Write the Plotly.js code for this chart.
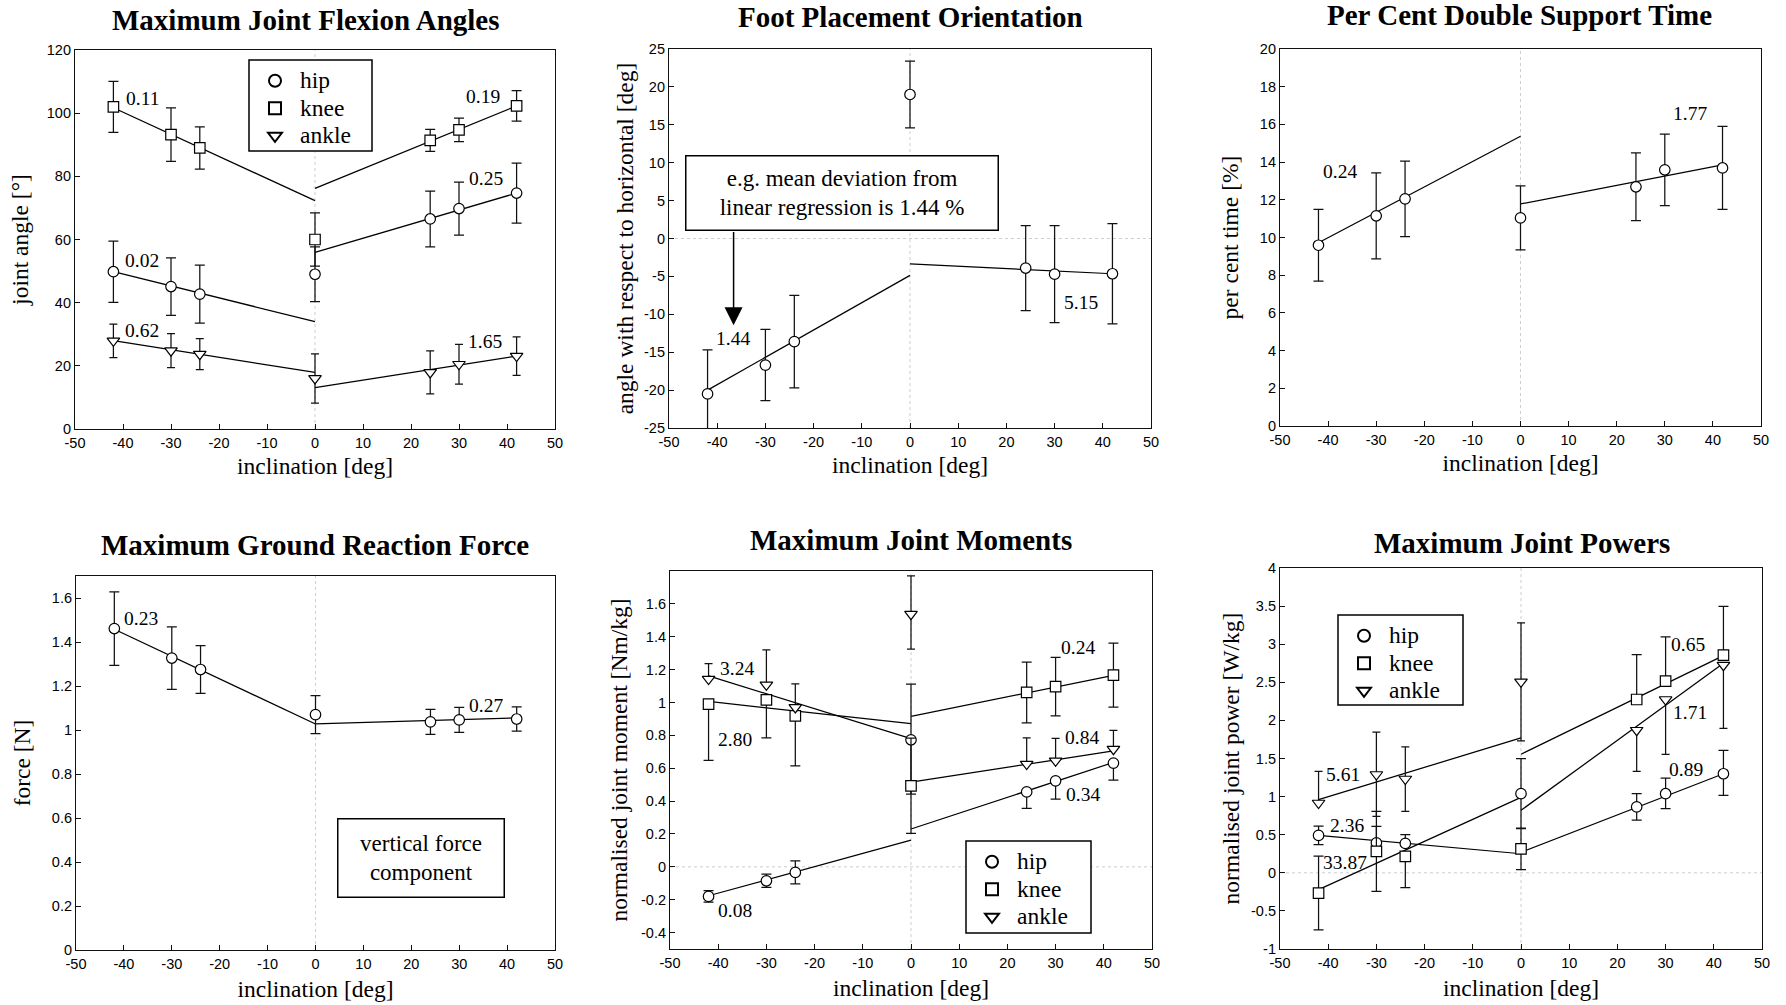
<!DOCTYPE html>
<html><head><meta charset="utf-8">
<script src="https://cdn.plot.ly/plotly-3.0.1.min.js"></script>
<style>html,body{margin:0;padding:0;background:#fff;}#chart{width:1786px;height:1005px;}</style>
</head><body><div id="chart"></div>
<script>
// ================= DATA =================
const inclination = [-42, -30, -24, 0, 24, 30, 42];
const fitLeftX = [-42, 0];
const fitRightX = [0, 42];

// Maximum joint flexion angles [deg]
const flexHip = [49.8, 45.1, 42.7, 49.0, 66.5, 69.8, 74.7];
const flexHipSD = [9.7, 9.1, 9.2, 8.7, 8.8, 8.4, 9.5];
const flexKnee = [102.0, 93.2, 89.0, 60.0, 91.4, 94.7, 102.3];
const flexKneeSD = [8.1, 8.5, 6.7, 8.4, 3.5, 3.7, 4.8];
const flexAnkle = [27.9, 24.8, 23.7, 16.0, 17.9, 20.5, 23.1];
const flexAnkleSD = [5.3, 5.4, 4.9, 7.8, 6.8, 6.3, 6.1];
const flexHipFitL = [49.8, 34.0], flexHipFitR = [55.9, 74.7];
const flexKneeFitL = [101.7, 72.3], flexKneeFitR = [76.2, 102.3];
const flexAnkleFitL = [28.0, 17.9], flexAnkleFitR = [13.1, 23.1];

// Foot placement orientation [deg]
const footAngle = [-20.5, -16.7, -13.6, 19.0, -3.9, -4.7, -4.65];
const footAngleSD = [5.8, 4.7, 6.1, 4.4, 5.6, 6.4, 6.6];
const footFitL = [-20.0, -4.87], footFitR = [-3.34, -4.65];

// Per cent double support time [%]
const dsTime = [9.59, 11.15, 12.05, 11.04, 12.69, 13.59, 13.69];
const dsTimeSD = [1.9, 2.28, 2.0, 1.7, 1.8, 1.9, 2.2];
const dsFitL = [9.72, 15.37], dsFitR = [11.78, 13.85];

// Maximum ground reaction force (vertical component) [N]
const grf = [1.461, 1.327, 1.275, 1.070, 1.037, 1.046, 1.050];
const grfSD = [0.167, 0.142, 0.109, 0.086, 0.057, 0.057, 0.055];
const grfFitL = [1.458, 1.0275], grfFitR = [1.0275, 1.055];

// Maximum joint moments [Nm/kg] (plotted error bars: upper / lower part)
const momHip = [-0.18, -0.085, -0.034, 0.773, 0.456, 0.523, 0.631];
const momHipUp = [0.035, 0.04, 0.07, 0.338, 0, 0, 0];
const momHipDown = [0.035, 0.04, 0.07, 0.331, 0.1, 0.111, 0.104];
const momKnee = [0.99, 1.016, 0.919, 0.493, 1.061, 1.097, 1.166];
const momKneeUp = [0, 0, 0, 0.29, 0.185, 0.178, 0.195];
const momKneeDown = [0.343, 0.231, 0.305, 0.29, 0.185, 0.178, 0.195];
const momAnkle = [1.142, 1.107, 0.970, 1.537, 0.625, 0.645, 0.716];
const momAnkleUp = [0.095, 0.213, 0.143, 0.233, 0.16, 0.136, 0.114];
const momAnkleDown = [0, 0, 0, 0.213, 0, 0, 0];
const momHipFitL = [-0.176, 0.162], momHipFitR = [0.23, 0.635];
const momKneeFitL = [1.006, 0.872], momKneeFitR = [0.915, 1.165];
const momAnkleFitL = [1.162, 0.78], momAnkleFitR = [0.515, 0.705];

// Maximum joint powers [W/kg]
const powHip = [0.491, 0.394, 0.386, 1.039, 0.865, 1.038, 1.30];
const powHipUp = [0.12, 0.215, 0.114, 0.46, 0.175, 0.206, 0.308];
const powHipDown = [0.12, 0, 0, 0.46, 0.175, 0.197, 0.284];
const powKnee = [-0.267, 0.280, 0.215, 0.315, 2.274, 2.515, 2.856];
const powKneeUp = [0.485, 0.525, 0, 0.27, 0.59, 0.58, 0.64];
const powKneeDown = [0.482, 0.525, 0.41, 0.272, 0, 0, 0];
const powAnkle = [0.916, 1.29, 1.231, 2.506, 1.871, 2.274, 2.725];
const powAnkleUp = [0.416, 0.557, 0.42, 0.775, 0, 0, 0];
const powAnkleDown = [0, 0.55, 0.425, 0.775, 0.54, 0.72, 0.83];
const powHipFitL = [0.49, 0.25], powHipFitR = [0.27, 1.30];
const powKneeFitL = [-0.22, 0.99], powKneeFitR = [1.556, 2.85];
const powAnkleFitL = [0.96, 1.77], powAnkleFitR = [0.82, 2.75];

// Tick labels
const xTickVals = [-50, -40, -30, -20, -10, 0, 10, 20, 30, 40, 50];
const xTickText = ['-50', '-40', '-30', '-20', '-10', '0', '10', '20', '30', '40', '50'];
const y1TickVals = [0, 20, 40, 60, 80, 100, 120];
const y1TickText = ['0', '20', '40', '60', '80', '100', '120'];
const y2TickVals = [-25, -20, -15, -10, -5, 0, 5, 10, 15, 20, 25];
const y2TickText = ['-25', '-20', '-15', '-10', '-5', '0', '5', '10', '15', '20', '25'];
const y3TickVals = [0, 2, 4, 6, 8, 10, 12, 14, 16, 18, 20];
const y3TickText = ['0', '2', '4', '6', '8', '10', '12', '14', '16', '18', '20'];
const y4TickVals = [0, 0.2, 0.4, 0.6, 0.8, 1, 1.2, 1.4, 1.6];
const y4TickText = ['0', '0.2', '0.4', '0.6', '0.8', '1', '1.2', '1.4', '1.6'];
const y5TickVals = [-0.4, -0.2, 0, 0.2, 0.4, 0.6, 0.8, 1, 1.2, 1.4, 1.6];
const y5TickText = ['-0.4', '-0.2', '0', '0.2', '0.4', '0.6', '0.8', '1', '1.2', '1.4', '1.6'];
const y6TickVals = [-1, -0.5, 0, 0.5, 1, 1.5, 2, 2.5, 3, 3.5, 4];
const y6TickText = ['-1', '-0.5', '0', '0.5', '1', '1.5', '2', '2.5', '3', '3.5', '4'];

const jointNames = ['hip', 'knee', 'ankle'];

// ================= STYLE / LAYOUT =================
const W = 1786, H = 1005;
const SERIF = '"Liberation Serif", "Times New Roman", Times, serif';
const SANS = '"Liberation Sans", Arial, Helvetica, sans-serif';
const boxes = [
  {x0: 75, x1: 555, y0: 50, y1: 429},
  {x0: 669, x1: 1151, y0: 49, y1: 428},
  {x0: 1280, x1: 1761, y0: 49, y1: 426},
  {x0: 76, x1: 555, y0: 576, y1: 950},
  {x0: 670, x1: 1152, y0: 571, y1: 949},
  {x0: 1280, x1: 1762, y0: 568, y1: 949}
];
const yRanges = [[0, 120], [-25, 25], [0, 20], [0, 1.7], [-0.5, 1.8], [-1, 4]];
const yTicks = [[y1TickVals, y1TickText], [y2TickVals, y2TickText], [y3TickVals, y3TickText],
                [y4TickVals, y4TickText], [y5TickVals, y5TickText], [y6TickVals, y6TickText]];
const yTitles = ['joint angle [°]', 'angle with respect to horizontal [deg]', 'per cent time [%]',
                 'force [N]', 'normalised joint moment [Nm/kg]', 'normalised joint power [W/kg]'];
const yStandoff = [11, 3, 13.7, 13.7, 6.5, 4.6];
const xStandoff = [8, 8, 8, 9.5, 9.5, 9.5];
const hasYZeroLine = [false, true, false, false, true, true];

function axisBase() {
  return {
    showline: true, linecolor: '#111', linewidth: 1.2, mirror: true,
    ticks: 'inside', ticklen: 5, tickwidth: 1, tickcolor: '#111',
    showgrid: false, zeroline: false,
    tickfont: {family: SANS, size: 14.5, color: '#000'},
    fixedrange: true
  };
}

const layout = {
  width: W, height: H,
  margin: {l: 0, r: 0, t: 0, b: 0},
  paper_bgcolor: '#fff', plot_bgcolor: '#fff',
  showlegend: true,
  annotations: [], shapes: []
};

boxes.forEach((b, i) => {
  const n = i === 0 ? '' : String(i + 1);
  const xa = axisBase();
  Object.assign(xa, {
    domain: [b.x0 / W, b.x1 / W], range: [-50, 50], anchor: 'y' + n,
    tickmode: 'array', tickvals: xTickVals, ticktext: xTickText,
    title: {text: 'inclination [deg]', font: {family: SERIF, size: 23.5, color: '#000'}, standoff: xStandoff[i]}
  });
  const ya = axisBase();
  Object.assign(ya, {
    domain: [1 - b.y1 / H, 1 - b.y0 / H], range: yRanges[i], anchor: 'x' + n,
    tickmode: 'array', tickvals: yTicks[i][0], ticktext: yTicks[i][1],
    title: {text: yTitles[i], font: {family: SERIF, size: 23.5, color: '#000'}, standoff: yStandoff[i]}
  });
  layout['xaxis' + n] = xa;
  layout['yaxis' + n] = ya;
  // faint dotted zero reference lines
  layout.shapes.push({
    type: 'line', layer: 'below', xref: 'x' + n, yref: 'y' + n + ' domain',
    x0: 0, x1: 0, y0: 0, y1: 1, line: {color: '#cdcdcd', width: 1, dash: 'dot'}
  });
  if (hasYZeroLine[i]) {
    layout.shapes.push({
      type: 'line', layer: 'below', xref: 'x' + n + ' domain', yref: 'y' + n,
      x0: 0, x1: 1, y0: 0, y1: 0, line: {color: '#cdcdcd', width: 1, dash: 'dot'}
    });
  }
});

// panel titles
const panelTitles = [
  ['Maximum Joint Flexion Angles', 305, 20],
  ['Foot Placement Orientation', 910, 17],
  ['Per Cent Double Support Time', 1519, 15],
  ['Maximum Ground Reaction Force', 315, 545],
  ['Maximum Joint Moments', 911, 540],
  ['Maximum Joint Powers', 1522, 543]
];
panelTitles.forEach(t => layout.annotations.push({
  text: t[0], xref: 'paper', yref: 'paper', x: t[1] / W, y: 1 - t[2] / H,
  xanchor: 'center', yanchor: 'middle', showarrow: false,
  font: {family: SERIF, size: 29, color: '#000', weight: 'bold'}
}));

// deviation labels
const devLabels = [
  [1, '0.11', -36.0, 104.7], [1, '0.19', 34.9, 105.4], [1, '0.25', 35.6, 79.4],
  [1, '0.02', -36.0, 53.2], [1, '0.62', -36.0, 31.3], [1, '1.65', 35.5, 27.7],
  [2, '1.44', -36.7, -13.2], [2, '5.15', 35.5, -8.5],
  [3, '0.24', -37.5, 13.48], [3, '1.77', 35.2, 16.6],
  [4, '0.23', -36.4, 1.507], [4, '0.27', 35.6, 1.110],
  [5, '3.24', -36.2, 1.207], [5, '2.80', -36.5, 0.777], [5, '0.08', -36.5, -0.268],
  [5, '0.24', 34.7, 1.335], [5, '0.84', 35.4, 0.787], [5, '0.34', 35.75, 0.442],
  [6, '5.61', -36.9, 1.29], [6, '2.36', -36.2, 0.615], [6, '33.87', -36.5, 0.13],
  [6, '0.65', 34.6, 2.99], [6, '1.71', 35.1, 2.11], [6, '0.89', 34.2, 1.36]
];
devLabels.forEach(d => {
  const n = d[0] === 1 ? '' : String(d[0]);
  layout.annotations.push({
    text: d[1], xref: 'x' + n, yref: 'y' + n, x: d[2], y: d[3],
    xanchor: 'center', yanchor: 'middle', showarrow: false,
    font: {family: SERIF, size: 19.5, color: '#000'}
  });
});

// boxed notes
layout.annotations.push({
  text: 'e.g. mean deviation from<br>linear regression is 1.44 %', xref: 'x2', yref: 'y2',
  x: -14.05, y: 5.99, xanchor: 'center', yanchor: 'middle', showarrow: false,
  width: 311, height: 73, borderpad: 0, bordercolor: '#000', borderwidth: 1.5, bgcolor: '#fff',
  font: {family: SERIF, size: 23, color: '#000'}
});
layout.annotations.push({
  text: '', xref: 'x2', yref: 'y2', x: -36.6, y: -11.46, axref: 'x2', ayref: 'y2', ax: -36.6, ay: 1.05,
  showarrow: true, arrowhead: 2, arrowsize: 2.4, arrowwidth: 1.5, arrowcolor: '#000'
});
layout.annotations.push({
  text: 'vertical force<br>component', xref: 'x4', yref: 'y4',
  x: 22.1, y: 0.42, xanchor: 'center', yanchor: 'middle', showarrow: false,
  width: 165, height: 77, borderpad: 0, bordercolor: '#000', borderwidth: 1.5, bgcolor: '#fff',
  font: {family: SERIF, size: 23, color: '#000'}
});

// legends: framed box (shape) + borderless legend inside
const legendBoxes = [
  {key: 'legend', x0: 249, x1: 372, y0: 60, y1: 151},
  {key: 'legend2', x0: 966, x1: 1091, y0: 841, y1: 933},
  {key: 'legend3', x0: 1338, x1: 1463, y0: 615, y1: 705}
];
legendBoxes.forEach(b => {
  layout.shapes.push({
    type: 'rect', xref: 'paper', yref: 'paper', layer: 'above',
    x0: b.x0 / W, x1: b.x1 / W, y0: 1 - b.y1 / H, y1: 1 - b.y0 / H,
    line: {color: '#000', width: 1.5}, fillcolor: '#fff'
  });
  layout[b.key] = {
    x: (b.x0 + 1) / W, y: 1 - (b.y0 + 2) / H, xanchor: 'left', yanchor: 'top',
    bgcolor: 'rgba(0,0,0,0)', borderwidth: 0,
    font: {family: SERIF, size: 18.85, color: '#000'},
    itemwidth: 40, itemsizing: 'constant', tracegroupgap: 0
  };
});

// ================= TRACES =================
const traces = [];
function fit(n, left, right) {
  [[fitLeftX, left], [fitRightX, right]].forEach(p => traces.push({
    type: 'scatter', mode: 'lines', x: p[0], y: p[1], xaxis: 'x' + n, yaxis: 'y' + n,
    line: {color: '#000', width: 1.25}, showlegend: false, hoverinfo: 'skip'
  }));
}
function pts(n, y, up, down, symbol, name, legend) {
  const err = down === null
    ? {type: 'data', symmetric: true, array: up}
    : {type: 'data', symmetric: false, array: up, arrayminus: down};
  Object.assign(err, {color: '#111', thickness: 1.25, width: symbol === 'triangle-down' ? 4 : 5, visible: true});
  traces.push({
    type: 'scatter', mode: 'markers',
    name: legend ? '<span style="font-size:23.5px">' + name + '</span>' : name,
    x: inclination, y: y, xaxis: 'x' + n, yaxis: 'y' + n,
    marker: {symbol: symbol, size: symbol === 'triangle-down' ? 11 : 10.5, color: '#fff', line: {color: '#000', width: 1.2}},
    error_y: err, cliponaxis: true,
    showlegend: !!legend, legend: legend || 'legend', hoverinfo: 'x+y'
  });
}

// lines first
fit('', flexHipFitL, flexHipFitR); fit('', flexKneeFitL, flexKneeFitR); fit('', flexAnkleFitL, flexAnkleFitR);
fit('2', footFitL, footFitR);
fit('3', dsFitL, dsFitR);
fit('4', grfFitL, grfFitR);
fit('5', momHipFitL, momHipFitR); fit('5', momKneeFitL, momKneeFitR); fit('5', momAnkleFitL, momAnkleFitR);
fit('6', powHipFitL, powHipFitR); fit('6', powKneeFitL, powKneeFitR); fit('6', powAnkleFitL, powAnkleFitR);

// markers with error bars
pts('', flexHip, flexHipSD, null, 'circle', jointNames[0], 'legend');
pts('', flexKnee, flexKneeSD, null, 'square', jointNames[1], 'legend');
pts('', flexAnkle, flexAnkleSD, null, 'triangle-down', jointNames[2], 'legend');
pts('2', footAngle, footAngleSD, null, 'circle', 'foot', null);
pts('3', dsTime, dsTimeSD, null, 'circle', 'double support', null);
pts('4', grf, grfSD, null, 'circle', 'GRF', null);
pts('5', momHip, momHipUp, momHipDown, 'circle', jointNames[0], 'legend2');
pts('5', momKnee, momKneeUp, momKneeDown, 'square', jointNames[1], 'legend2');
pts('5', momAnkle, momAnkleUp, momAnkleDown, 'triangle-down', jointNames[2], 'legend2');
pts('6', powHip, powHipUp, powHipDown, 'circle', jointNames[0], 'legend3');
pts('6', powKnee, powKneeUp, powKneeDown, 'square', jointNames[1], 'legend3');
pts('6', powAnkle, powAnkleUp, powAnkleDown, 'triangle-down', jointNames[2], 'legend3');

Plotly.newPlot('chart', traces, layout, {displayModeBar: false, responsive: false});
</script>
</body></html>
